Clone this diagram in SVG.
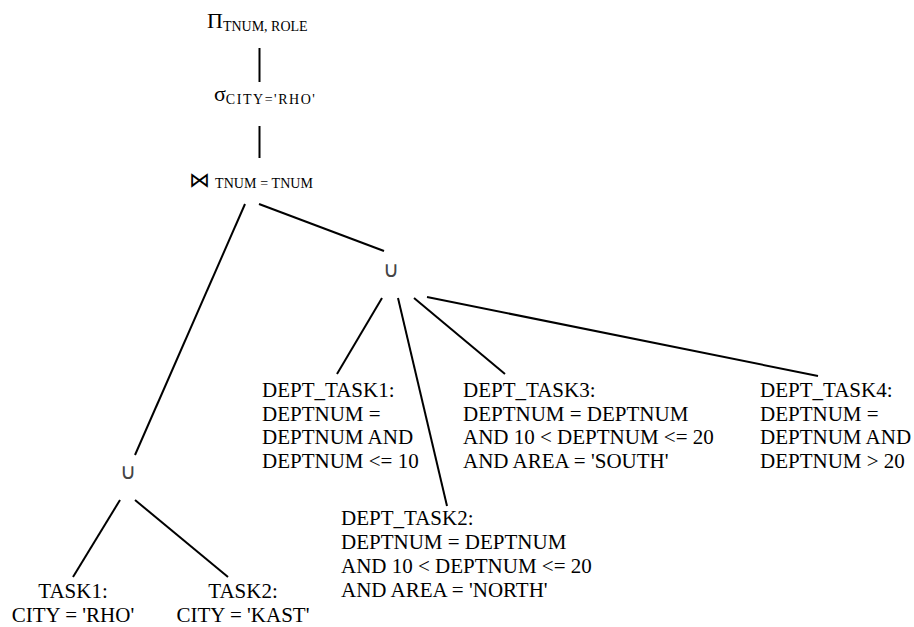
<svg xmlns="http://www.w3.org/2000/svg" width="914" height="627" viewBox="0 0 914 627">
  <style>
    text { font-family: "Liberation Serif", "Times New Roman", "DejaVu Serif", serif; fill: #000; }
    .lbl { font-size: 21px; }
    .op { font-size: 22px; }
    .sub { font-size: 14px; }
    .union { font-family: "DejaVu Sans", "Liberation Serif", sans-serif; font-size: 22px; font-weight: 200; fill: #444; }
    .edge { stroke: #000; stroke-width: 2; fill: none; }
  </style>
  <rect width="914" height="627" fill="#fff"/>

  <!-- connectors -->
  <g id="connectors">
    <line class="edge" x1="259.5" y1="48" x2="259.5" y2="82"/>
    <line class="edge" x1="259.5" y1="126" x2="259.5" y2="158"/>
    <line class="edge" x1="245" y1="204" x2="135" y2="455"/>
    <line class="edge" x1="259" y1="204" x2="384" y2="251"/>
    <line class="edge" x1="382" y1="298" x2="337" y2="374"/>
    <line class="edge" x1="398" y1="298" x2="447" y2="506"/>
    <line class="edge" x1="414" y1="298" x2="505" y2="374"/>
    <line class="edge" x1="427" y1="297" x2="818" y2="376"/>
    <line class="edge" x1="120" y1="500" x2="73" y2="577"/>
    <line class="edge" x1="135" y1="500" x2="228" y2="577"/>
  </g>

  <!-- projection -->
  <g id="project">
    <text x="207" y="28" class="op">Π<tspan class="sub" dy="3">TNUM, ROLE</tspan></text>
  </g>

  <!-- selection -->
  <g id="select">
    <text x="214" y="101" class="op">σ<tspan class="sub" dy="3" textLength="89">CITY='RHO'</tspan></text>
  </g>

  <!-- join -->
  <g id="join">
    <text x="189" y="187" style="font-family:'DejaVu Sans',sans-serif;font-size:21px;font-weight:200">⋈</text>
    <text x="215" y="188" class="sub" textLength="98">TNUM = TNUM</text>
  </g>

  <!-- unions -->
  <g id="union-right">
    <text x="390.5" y="277" class="union" text-anchor="middle">∪</text>
  </g>
  <g id="union-left">
    <text x="127.5" y="479" class="union" text-anchor="middle">∪</text>
  </g>

  <!-- base fragments -->
  <g id="task1">
    <text x="73" y="598" class="lbl" text-anchor="middle">TASK1:</text>
    <text x="73" y="622" class="lbl" text-anchor="middle">CITY = 'RHO'</text>
  </g>
  <g id="task2">
    <text x="243" y="598" class="lbl" text-anchor="middle">TASK2:</text>
    <text x="243" y="622" class="lbl" text-anchor="middle">CITY = 'KAST'</text>
  </g>

  <g id="dept-task1">
    <text x="262" y="397" class="lbl">DEPT_TASK1:</text>
    <text x="262" y="420.5" class="lbl">DEPTNUM =</text>
    <text x="262" y="444" class="lbl">DEPTNUM AND</text>
    <text x="262" y="467.5" class="lbl">DEPTNUM &lt;= 10</text>
  </g>
  <g id="dept-task2">
    <text x="341" y="525" class="lbl">DEPT_TASK2:</text>
    <text x="341" y="549" class="lbl">DEPTNUM = DEPTNUM</text>
    <text x="341" y="573" class="lbl">AND 10 &lt; DEPTNUM &lt;= 20</text>
    <text x="341" y="597" class="lbl">AND AREA = 'NORTH'</text>
  </g>
  <g id="dept-task3">
    <text x="463" y="397" class="lbl">DEPT_TASK3:</text>
    <text x="463" y="420.5" class="lbl">DEPTNUM = DEPTNUM</text>
    <text x="463" y="444" class="lbl">AND 10 &lt; DEPTNUM &lt;= 20</text>
    <text x="463" y="467.5" class="lbl">AND AREA = 'SOUTH'</text>
  </g>
  <g id="dept-task4">
    <text x="760" y="397" class="lbl">DEPT_TASK4:</text>
    <text x="760" y="420.5" class="lbl">DEPTNUM =</text>
    <text x="760" y="444" class="lbl">DEPTNUM AND</text>
    <text x="760" y="467.5" class="lbl">DEPTNUM &gt; 20</text>
  </g>
</svg>
